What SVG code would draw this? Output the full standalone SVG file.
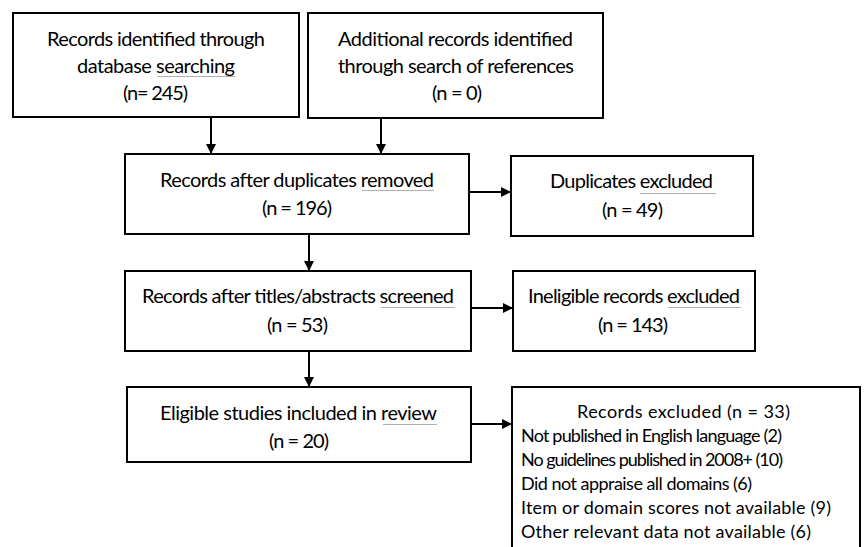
<svg xmlns="http://www.w3.org/2000/svg" width="864" height="547" viewBox="0 0 864 547">
<style>
.box{fill:#fff;stroke:#000;stroke-width:2}
.t{font-family:Lato,"Open Sans","Liberation Sans",sans-serif;font-size:20px;fill:#000}
.s{font-family:Lato,"Open Sans","Liberation Sans",sans-serif;font-size:18px;fill:#000}
.c{stroke:#000;stroke-width:2;fill:none}
.sq{fill:url(#sq)}
</style>
<defs>
<marker id="ah" markerWidth="10" markerHeight="10" refX="10" refY="5" orient="auto" markerUnits="userSpaceOnUse">
<path d="M0,0 L10,5 L0,10 Z" fill="#000"/>
</marker>
<pattern id="sq" width="4" height="3" patternUnits="userSpaceOnUse">
<path d="M0,2 L1,1 L2,2 L3,1 L4,2" stroke="#9a9a9a" stroke-width="0.8" fill="none"/>
</pattern>
</defs>
<rect width="864" height="547" fill="#fff"/>
<g id="connectors">
<line class="c" x1="211" y1="117" x2="211" y2="154" marker-end="url(#ah)"/>
<line class="c" x1="381" y1="118" x2="381" y2="154" marker-end="url(#ah)"/>
<line class="c" x1="469" y1="192" x2="511" y2="192" marker-end="url(#ah)"/>
<line class="c" x1="309" y1="234" x2="309" y2="271" marker-end="url(#ah)"/>
<line class="c" x1="471" y1="308" x2="513" y2="308" marker-end="url(#ah)"/>
<line class="c" x1="309" y1="351" x2="309" y2="387" marker-end="url(#ah)"/>
<line class="c" x1="471" y1="424" x2="512" y2="424" marker-end="url(#ah)"/>
</g>
<g id="n1">
<rect class="box" x="13" y="13" width="286" height="104"/>
<text class="t" x="47" y="46" textLength="218">Records identified through</text>
<text class="t" x="77" y="73" textLength="158">database searching</text>
<rect class="sq" x="157" y="76" width="78" height="3"/>
<text class="t" x="123" y="100" textLength="65">(n= 245)</text>
</g>
<g id="n2">
<rect class="box" x="308" y="13" width="295" height="105"/>
<text class="t" x="338" y="46" textLength="235">Additional records identified</text>
<text class="t" x="338" y="73" textLength="236">through search of references</text>
<text class="t" x="432" y="100" textLength="50">(n = 0)</text>
</g>
<g id="n3">
<rect class="box" x="125" y="154" width="344" height="80"/>
<text class="t" x="160" y="187" textLength="274">Records after duplicates removed</text>
<rect class="sq" x="362" y="190" width="72" height="3"/>
<text class="t" x="262" y="215" textLength="70">(n = 196)</text>
</g>
<g id="n4">
<rect class="box" x="511" y="156" width="242" height="80"/>
<text class="t" x="550" y="188" textLength="163">Duplicates excluded</text>
<rect class="sq" x="640" y="191" width="76" height="3"/>
<text class="t" x="602" y="217" textLength="61">(n = 49)</text>
</g>
<g id="n5">
<rect class="box" x="125" y="271" width="346" height="80"/>
<text class="t" x="142" y="303" textLength="312">Records after titles/abstracts screened</text>
<rect class="sq" x="381" y="307" width="74" height="3"/>
<text class="t" x="267" y="332" textLength="61">(n = 53)</text>
</g>
<g id="n6">
<rect class="box" x="513" y="271" width="242" height="80"/>
<text class="t" x="528" y="303" textLength="212">Ineligible records excluded</text>
<rect class="sq" x="668" y="307" width="73" height="3"/>
<text class="t" x="598" y="332" textLength="70">(n = 143)</text>
</g>
<g id="n7">
<rect class="box" x="127" y="387" width="344" height="75"/>
<text class="t" x="160" y="420" textLength="277">Eligible studies included in review</text>
<rect class="sq" x="383" y="423" width="54" height="3"/>
<text class="t" x="269" y="448" textLength="60">(n = 20)</text>
</g>
<g id="n8">
<rect class="box" x="512" y="387" width="348" height="175"/>
<text class="s" x="577" y="418" textLength="213">Records excluded (n = 33)</text>
<text class="s" x="521" y="442" textLength="261">Not published in English language (2)</text>
<text class="s" x="521" y="466" textLength="262">No guidelines published in 2008+ (10)</text>
<text class="s" x="521" y="490" textLength="231">Did not appraise all domains (6)</text>
<text class="s" x="521" y="514" textLength="310">Item or domain scores not available (9)</text>
<text class="s" x="521" y="538" textLength="290">Other relevant data not available (6)</text>
</g>
</svg>
